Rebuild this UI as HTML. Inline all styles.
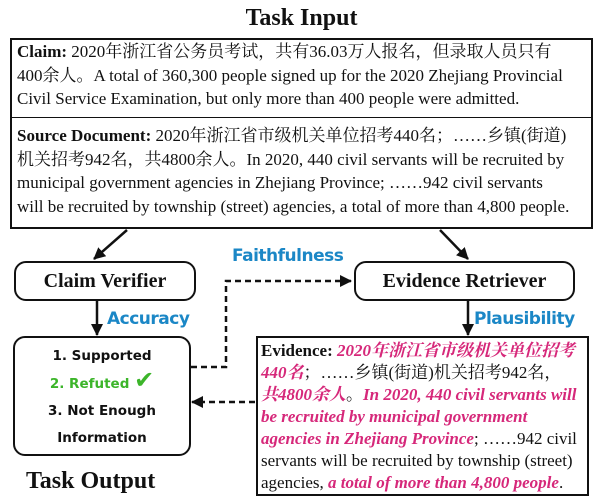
<!DOCTYPE html>
<html><head><meta charset="utf-8"><style>
body{margin:0;width:603px;height:504px;background:#fff;position:relative;overflow:hidden;font-family:"Liberation Serif","Noto Serif CJK SC",serif;color:#111}
.a{position:absolute;white-space:nowrap}
.t{font-size:17px;line-height:23.5px}
.h{font-weight:bold;font-size:24px}
.node{position:absolute;border:2.5px solid #111;border-radius:12px;box-sizing:border-box;font-weight:bold;font-size:20px;display:flex;align-items:center;justify-content:center}
.lab{font-family:"DejaVu Sans",sans-serif;font-weight:bold;color:#1b87c6;font-size:17px;letter-spacing:-0.5px}
.m{color:#d6287a;font-weight:bold;font-style:italic}
.o{font-family:"DejaVu Sans",sans-serif;font-weight:bold;font-size:13.5px;text-align:center;line-height:27px}
</style></head><body>
<div class="a h" style="left:0;width:603px;text-align:center;top:5px">Task Input</div>
<div class="a" style="left:10px;top:38px;width:583px;height:191px;border:2px solid #111;box-sizing:border-box"></div>
<div class="a" style="left:10px;top:117px;width:583px;border-top:1.5px solid #111"></div>
<div class="a t" style="left:17px;top:40px"><b>Claim:</b> 2020年浙江省公务员考试，共有36.03万人报名，但录取人员只有<br>400余人。A total of 360,300 people signed up for the 2020 Zhejiang Provincial<br>Civil Service Examination, but only more than 400 people were admitted.</div>
<div class="a t" style="left:17px;top:124px"><b>Source Document:</b> 2020年浙江省市级机关单位招考440名；……乡镇(街道)<br>机关招考942名，共4800余人。In 2020, 440 civil servants will be recruited by<br>municipal government agencies in Zhejiang Province; ……942 civil servants<br>will be recruited by township (street) agencies, a total of more than 4,800 people.</div>
<div class="node" style="left:14px;top:261px;width:182px;height:40px">Claim Verifier</div>
<div class="node" style="left:354px;top:261px;width:221px;height:40px">Evidence Retriever</div>
<div class="node o" style="left:13px;top:336px;width:178px;height:120px;display:block;padding-top:5px;font-size:13.5px">1. Supported<br><span style="color:#3cb52a">2. Refuted <span style="font-size:24px;line-height:20px">✔</span></span><br>3. Not Enough<br>Information</div>
<div class="a h" style="left:26px;top:468px">Task Output</div>
<div class="a" style="left:256px;top:336px;width:333px;height:160px;border:2px solid #111;box-sizing:border-box"></div>
<div class="a t" style="left:261px;top:340px;line-height:22px"><b>Evidence:</b> <span class="m">2020年浙江省市级机关单位招考</span><br><span class="m">440名</span>；……乡镇(街道)机关招考942名，<br><span class="m">共4800余人</span>。<span class="m">In 2020, 440 civil servants will</span><br><span class="m">be recruited by municipal government</span><br><span class="m">agencies in Zhejiang Province</span>; ……942 civil<br>servants will be recruited by township (street)<br>agencies, <span class="m">a total of more than 4,800 people</span>.</div>
<div class="a lab" style="left:232px;top:246px">Faithfulness</div>
<div class="a lab" style="left:107px;top:309px">Accuracy</div>
<div class="a lab" style="left:474px;top:309px">Plausibility</div>
<svg class="a" style="left:0;top:0" width="603" height="504">
<defs><marker id="ar" markerWidth="12" markerHeight="12" refX="11" refY="6" orient="auto" markerUnits="userSpaceOnUse"><path d="M0,0L12,6L0,12z" fill="#111"/></marker></defs>
<g stroke="#111" stroke-width="2.5" fill="none">
<line x1="127" y1="230" x2="94" y2="259" marker-end="url(#ar)"/>
<line x1="440" y1="230" x2="468" y2="259" marker-end="url(#ar)"/>
<line x1="97" y1="301" x2="97" y2="335" marker-end="url(#ar)"/>
<line x1="468" y1="301" x2="468" y2="335" marker-end="url(#ar)"/>
<polyline stroke-dasharray="6,4" points="191,367 226,367 226,281 351,281" marker-end="url(#ar)"/>
<line stroke-dasharray="6,4" x1="255" y1="402" x2="192" y2="402" marker-end="url(#ar)"/>
</g></svg>
</body></html>
